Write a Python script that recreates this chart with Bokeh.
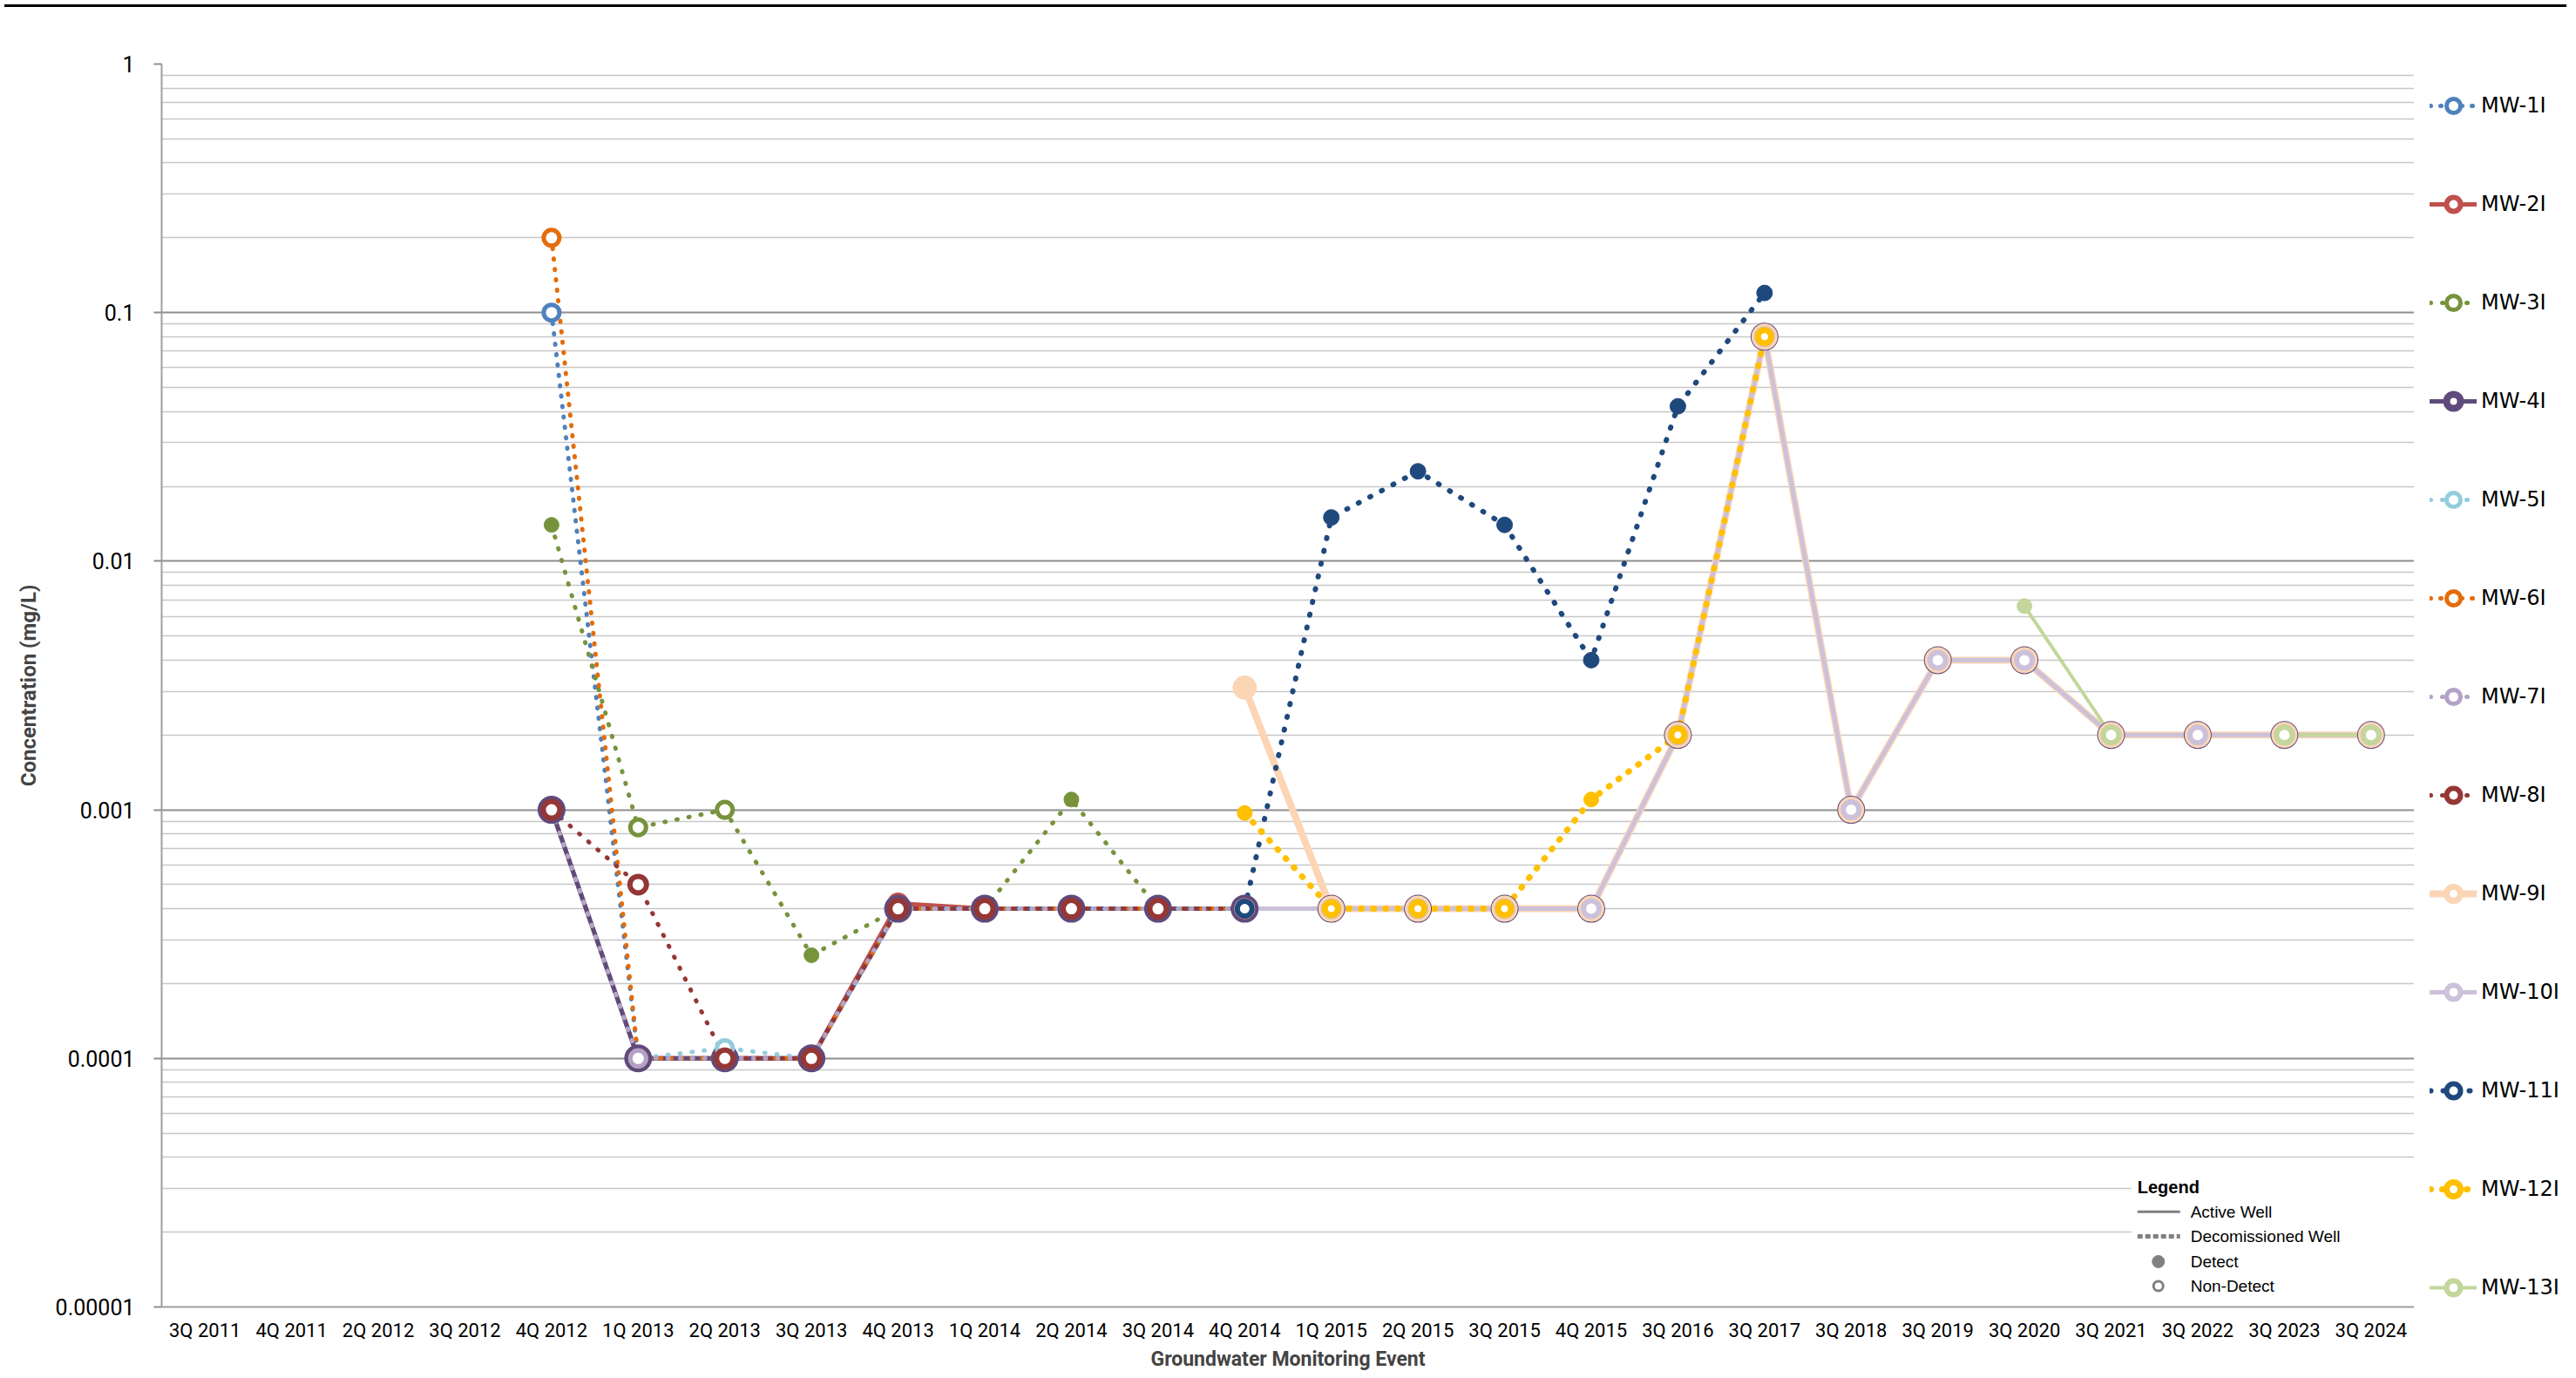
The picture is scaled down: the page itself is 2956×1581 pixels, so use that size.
import math
from bokeh.plotting import figure
from bokeh.models import (FactorRange, FixedTicker, CustomJSTickFormatter, Legend,
                          LegendItem, Label, BoxAnnotation, Div, Range1d)
from bokeh.layouts import column, row
from bokeh.embed import file_html
from bokeh.resources import INLINE

N = None

events = ["3Q 2011", "4Q 2011", "2Q 2012", "3Q 2012", "4Q 2012", "1Q 2013", "2Q 2013",
          "3Q 2013", "4Q 2013", "1Q 2014", "2Q 2014", "3Q 2014", "4Q 2014", "1Q 2015",
          "2Q 2015", "3Q 2015", "4Q 2015", "3Q 2016", "3Q 2017", "3Q 2018", "3Q 2019",
          "3Q 2020", "3Q 2021", "3Q 2022", "3Q 2023", "3Q 2024"]

y_ticks = [0.00001, 0.0001, 0.001, 0.01, 0.1, 1]

# concentrations (mg/L); None = not sampled
mw1 = [N, N, N, N, 0.1, 0.0001, 0.0001, 0.0001, 0.0004, 0.0004, 0.0004, 0.0004, 0.0004,
       N, N, N, N, N, N, N, N, N, N, N, N, N]
mw2 = [N, N, N, N, 0.001, 0.0001, 0.0001, 0.0001, 0.00042, 0.0004, 0.0004, 0.0004, 0.0004,
       N, N, N, N, N, N, N, N, N, N, N, N, N]
mw3 = [N, N, N, N, 0.014, 0.00085, 0.001, 0.00026, 0.0004, 0.0004, 0.0011, 0.0004, 0.0004,
       N, N, N, N, N, N, N, N, N, N, N, N, N]
mw4 = [N, N, N, N, 0.001, 0.0001, 0.0001, 0.0001, 0.0004, 0.0004, 0.0004, 0.0004, 0.0004,
       0.0004, 0.0004, 0.0004, 0.0004, 0.002, 0.08, 0.001, 0.004, 0.004, 0.002, 0.002, 0.002, 0.002]
mw5 = [N, N, N, N, 0.001, 0.0001, 0.00011, 0.0001, 0.0004, 0.0004, 0.0004, 0.0004, 0.0004,
       N, N, N, N, N, N, N, N, N, N, N, N, N]
mw6 = [N, N, N, N, 0.2, 0.0001, 0.0001, 0.0001, 0.0004, 0.0004, 0.0004, 0.0004, 0.0004,
       N, N, N, N, N, N, N, N, N, N, N, N, N]
mw7 = [N, N, N, N, 0.001, 0.0001, 0.0001, 0.0001, 0.0004, 0.0004, 0.0004, 0.0004, 0.0004,
       N, N, N, N, N, N, N, N, N, N, N, N, N]
mw8 = [N, N, N, N, 0.001, 0.0005, 0.0001, 0.0001, 0.0004, 0.0004, 0.0004, 0.0004, 0.0004,
       N, N, N, N, N, N, N, N, N, N, N, N, N]
mw9 = [N, N, N, N, N, N, N, N, N, N, N, N, 0.0031,
       0.0004, 0.0004, 0.0004, 0.0004, 0.002, 0.08, 0.001, 0.004, 0.004, 0.002, 0.002, 0.002, 0.002]
mw10 = [N, N, N, N, N, N, N, N, N, N, N, N, 0.0004,
        0.0004, 0.0004, 0.0004, 0.0004, 0.002, 0.08, 0.001, 0.004, 0.004, 0.002, 0.002, 0.002, 0.002]
mw11 = [N, N, N, N, N, N, N, N, N, N, N, N, 0.0004,
        0.015, 0.023, 0.014, 0.004, 0.042, 0.12, N, N, N, N, N, N, N]
mw12 = [N, N, N, N, N, N, N, N, N, N, N, N, 0.00097,
        0.0004, 0.0004, 0.0004, 0.0011, 0.002, 0.08, N, N, N, N, N, N, N]
mw13 = [N, N, N, N, N, N, N, N, N, N, N, N, N,
        N, N, N, N, N, N, N, N, 0.0066, 0.002, N, 0.002, 0.002]

# events where the analyte was detected (all other points are non-detects)
mw3_detect = ["4Q 2012", "3Q 2013", "2Q 2014"]
mw9_detect = ["4Q 2014"]
mw11_detect = ["1Q 2015", "2Q 2015", "3Q 2015", "4Q 2015", "3Q 2016", "3Q 2017"]
mw12_detect = ["4Q 2014", "4Q 2015"]
mw13_detect = ["3Q 2020"]

series = [
    ("MW-1I", mw1, []), ("MW-2I", mw2, []), ("MW-3I", mw3, mw3_detect),
    ("MW-4I", mw4, []), ("MW-5I", mw5, []), ("MW-6I", mw6, []),
    ("MW-7I", mw7, []), ("MW-8I", mw8, []), ("MW-9I", mw9, mw9_detect),
    ("MW-10I", mw10, []), ("MW-11I", mw11, mw11_detect), ("MW-12I", mw12, mw12_detect),
    ("MW-13I", mw13, mw13_detect),
]

# style: color, dash, line width, ND size, ND ring width, detect size
styles = {
    "MW-1I": ("#4F81BD", "1 11", 5, 18, 5, 14),
    "MW-2I": ("#C0504D", "solid", 5, 19, 6, 16),
    "MW-3I": ("#77933C", "1 13", 5, 18, 5, 17),
    "MW-4I": ("#604A7B", "solid", 5, 24, 8, 18),
    "MW-5I": ("#93CDDD", "1 13", 5, 18, 5, 16),
    "MW-6I": ("#E46C0A", "1 11", 5, 18, 5, 16),
    "MW-7I": ("#B3A2C7", "1 13", 5, 18, 5, 16),
    "MW-8I": ("#953735", "1 13", 5, 19, 6, 16),
    "MW-9I": ("#FCD5B5", "solid", 8, 23, 7, 27),
    "MW-10I": ("#CCC1DA", "solid", 5, 18, 6, 16),
    "MW-11I": ("#1F497D", "1 14", 6, 17, 6, 18),
    "MW-12I": ("#FFC000", "1 13", 7, 15, 7, 17),
    "MW-13I": ("#C3D69B", "solid", 4, 18, 6, 17),
}

H = 1562
W_MAIN, W_LEG = 2770, 170
FL, FT, FB_B = 185, 60, 70

p = figure(x_range=FactorRange(*events), y_axis_type="log", y_range=(1e-5, 1),
           width=W_MAIN, height=H, output_backend="svg", toolbar_location=None,
           min_border_left=FL, min_border_right=0, min_border_top=FT,
           min_border_bottom=FB_B)
p.outline_line_color = None
p.background_fill_color = "white"
p.border_fill_color = "white"

# grid
p.xgrid.grid_line_color = None
p.ygrid.grid_line_color = "#8E8E8E"
p.ygrid.grid_line_width = 2
p.ygrid.minor_grid_line_color = "#C8C8C8"
p.ygrid.minor_grid_line_width = 1.5

minor = [m * t for t in y_ticks[:-1] for m in range(2, 10)]
p.yaxis.ticker = FixedTicker(ticks=y_ticks, minor_ticks=minor)
p.yaxis.formatter = CustomJSTickFormatter(code="""
const e = Math.round(Math.log10(tick));
if (e >= 0) return "1";
return "0." + "0".repeat(-e - 1) + "1";
""")
p.yaxis.major_label_text_font = "Roboto"
p.yaxis.major_label_text_font_size = "25px"
p.yaxis.major_label_text_color = "#000000"
p.yaxis.major_tick_out = 9
p.yaxis.major_tick_in = 0
p.yaxis.minor_tick_out = 0
p.yaxis.minor_tick_in = 0
p.yaxis.major_tick_line_color = "#8E8E8E"
p.yaxis.major_tick_line_width = 2
p.yaxis.major_label_standoff = 22
p.yaxis.axis_line_color = "#A0A0A0"
p.yaxis.axis_line_width = 2
p.yaxis.axis_label = "Concentration (mg/L)"
p.yaxis.axis_label_text_font = "Roboto"
p.yaxis.axis_label_text_font_style = "bold"
p.yaxis.axis_label_text_font_size = "24px"
p.yaxis.axis_label_standoff = 14

p.xaxis.major_label_text_font = "Roboto"
p.xaxis.major_label_text_font_size = "22px"
p.xaxis.major_label_text_color = "#000000"
p.xaxis.major_tick_out = 0
p.xaxis.major_tick_in = 0
p.xaxis.major_label_standoff = 14
p.xaxis.axis_line_color = "#A0A0A0"
p.xaxis.axis_line_width = 2
p.xaxis.axis_label = "Groundwater Monitoring Event"
p.xaxis.axis_label_text_font = "Roboto"
p.xaxis.axis_label_text_font_style = "bold"
p.xaxis.axis_label_text_font_size = "23px"
p.xaxis.axis_label_standoff = 4

# inner key placement helpers: positions measured relative to the plot frame
REF_L, REF_R, REF_T, REF_B = 183.0, 2770.0, 75.0, 1499.0
band = (REF_R - REF_L) / len(events)
dec = (REF_B - REF_T) / 5.0


def xs(px):
    return (px - REF_L) / band


def ys(py):
    return 10 ** (-5 + (REF_B - py) / dec)


box = BoxAnnotation(left=xs(2445), right=xs(2790), bottom=ys(REF_B - 3), top=ys(1340),
                    fill_color="white", fill_alpha=1.0, line_color=None, level="underlay")
p.add_layout(box)


def draw_series(fig):
    lines, nds = {}, {}
    for name, vals, det in series:
        col, dash, lw, nds_, ndw, ds = styles[name]
        y = [v if v is not None else float("nan") for v in vals]
        lines[name] = fig.line(x=events, y=y, line_color=col, line_width=lw, line_dash=dash,
                               line_cap="round", line_join="round")
    for name, vals, det in series:
        col, dash, lw, nds_, ndw, ds = styles[name]
        nx = [e for e, v in zip(events, vals) if v is not None and e not in det]
        ny = [v for e, v in zip(events, vals) if v is not None and e not in det]
        dx = [e for e, v in zip(events, vals) if v is not None and e in det]
        dy = [v for e, v in zip(events, vals) if v is not None and e in det]
        nds[name] = fig.scatter(x=nx, y=ny, marker="circle", size=nds_, fill_color="white",
                                line_color=col, line_width=ndw)
        if dx:
            fig.scatter(x=dx, y=dy, marker="circle", size=ds, fill_color=col, line_color=col,
                        line_width=1)
    return lines, nds


draw_series(p)

# inner "Legend" key
GRAY = "#808080"
p.add_layout(Label(x=xs(2452), y=ys(1362), text="Legend", text_font="Liberation Sans",
                   text_font_style="bold", text_font_size="20px", text_baseline="middle",
                   text_color="black"))
key_rows = [("Active Well", 1390), ("Decomissioned Well", 1418), ("Detect", 1447),
            ("Non-Detect", 1475)]
for txt, py in key_rows:
    p.add_layout(Label(x=xs(2513), y=ys(py), text=txt, text_font="Liberation Sans",
                       text_font_size="19px", text_baseline="middle", text_color="black"))
p.line(x=[xs(2452), xs(2501)], y=[ys(1390), ys(1390)], line_color=GRAY, line_width=3)
p.line(x=[xs(2452), xs(2501)], y=[ys(1418), ys(1418)], line_color=GRAY, line_width=5,
       line_dash="6 3")
p.scatter(x=[xs(2476)], y=[ys(1447)], marker="circle", size=14, fill_color=GRAY,
          line_color=GRAY)
p.scatter(x=[xs(2476)], y=[ys(1475)], marker="circle", size=11, fill_color="white",
          line_color=GRAY, line_width=3)

# series legend in a narrow companion figure (same series, plotted out of view)
lf = figure(x_range=FactorRange(*events), y_axis_type="log", y_range=Range1d(10, 100),
            width=W_LEG, height=H, output_backend="svg", toolbar_location=None,
            x_axis_location=None, y_axis_location=None,
            min_border_left=0, min_border_right=0, min_border_top=0, min_border_bottom=0)
lf.outline_line_color = None
lf.xgrid.visible = False
lf.ygrid.visible = False
lf_lines, lf_nds = draw_series(lf)

items = [LegendItem(label=name, renderers=[lf_lines[name], lf_nds[name]])
         for name, _, _ in series]
legend = Legend(items=items, location=(18, 2), orientation="vertical",
                glyph_width=54, glyph_height=40, label_height=40, spacing=73, padding=0,
                margin=0, label_standoff=5, border_line_color=None,
                background_fill_alpha=0.0, label_text_font="DejaVu Sans",
                label_text_font_size="24px", label_text_color="#000000")
lf.add_layout(legend)

top_rule = Div(text="", width=W_MAIN + W_LEG, height=3, styles={"background-color": "black"})
layout = column(top_rule, row(p, lf, spacing=0), spacing=0)

open("out.html", "w").write(file_html(layout, INLINE))
